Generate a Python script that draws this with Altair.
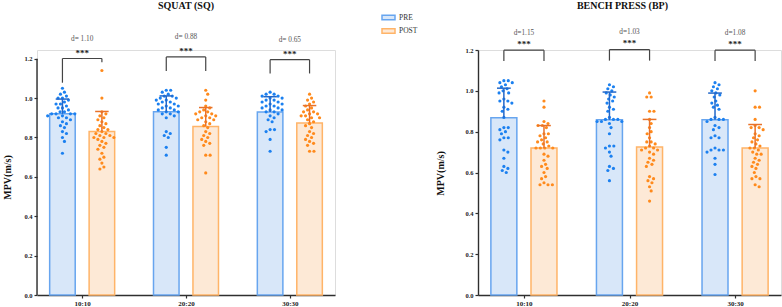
import json
import altair as alt
import pandas as pd

conditions = ["10:10", "20:20", "30:30"]
phases = ["PRE", "POST"]

# ---- SQUAT (SQ) individual MPV values (m/s) ----
sq_pre_10 = [1.05, 1.03, 1.02, 1.01, 1.00, 1.00, 0.99, 0.98, 0.97, 0.97, 0.96, 0.95, 0.95, 0.94, 0.93, 0.93, 0.92,
             0.92, 0.92, 0.92, 0.91, 0.91, 0.90, 0.90, 0.89, 0.88, 0.87, 0.86, 0.85, 0.83, 0.82, 0.80, 0.78, 0.72]
sq_post_10 = [1.14, 1.00, 0.93, 0.92, 0.91, 0.90, 0.89, 0.88, 0.87, 0.86, 0.85, 0.84, 0.84, 0.83, 0.82, 0.82, 0.81,
              0.81, 0.80, 0.80, 0.80, 0.79, 0.78, 0.77, 0.76, 0.75, 0.74, 0.72, 0.70, 0.69, 0.67, 0.65, 0.64]
sq_pre_20 = [1.04, 1.04, 1.03, 1.02, 1.01, 1.01, 1.00, 1.00, 0.99, 0.99, 0.98, 0.98, 0.97, 0.97, 0.96, 0.96, 0.95,
             0.95, 0.94, 0.94, 0.93, 0.93, 0.92, 0.92, 0.91, 0.90, 0.83, 0.82, 0.81, 0.80, 0.75, 0.71]
sq_post_20 = [1.04, 1.02, 0.99, 0.96, 0.95, 0.94, 0.93, 0.93, 0.92, 0.92, 0.91, 0.91, 0.90, 0.90, 0.89, 0.89, 0.88,
              0.87, 0.86, 0.85, 0.83, 0.82, 0.81, 0.80, 0.79, 0.78, 0.77, 0.76, 0.71, 0.71, 0.62]
sq_pre_30 = [1.03, 1.02, 1.02, 1.01, 1.01, 1.00, 1.00, 0.99, 0.99, 0.98, 0.98, 0.97, 0.97, 0.96, 0.96, 0.95, 0.95,
             0.94, 0.94, 0.93, 0.93, 0.92, 0.91, 0.90, 0.89, 0.88, 0.84, 0.84, 0.83, 0.79, 0.73]
sq_post_30 = [1.02, 1.00, 0.99, 0.98, 0.97, 0.96, 0.95, 0.94, 0.93, 0.93, 0.92, 0.92, 0.91, 0.91, 0.90, 0.90, 0.89,
              0.88, 0.87, 0.86, 0.85, 0.83, 0.82, 0.81, 0.80, 0.79, 0.78, 0.77, 0.76, 0.73, 0.73]

# ---- BENCH PRESS (BP) individual MPV values (m/s) ----
bp_pre_10 = [1.05, 1.05, 1.04, 1.04, 1.03, 1.02, 1.01, 1.00, 0.99, 0.99, 0.96, 0.95, 0.95, 0.94, 0.92, 0.91, 0.90,
             0.87, 0.82, 0.82, 0.81, 0.80, 0.79, 0.77, 0.77, 0.76, 0.71, 0.70, 0.67, 0.63, 0.62, 0.61, 0.60]
bp_post_10 = [0.95, 0.92, 0.85, 0.84, 0.83, 0.83, 0.82, 0.79, 0.79, 0.78, 0.77, 0.76, 0.75, 0.75, 0.74, 0.73, 0.72,
              0.72, 0.72, 0.72, 0.69, 0.68, 0.66, 0.64, 0.63, 0.62, 0.60, 0.58, 0.57, 0.55, 0.54, 0.54, 0.54]
bp_pre_20 = [1.03, 1.02, 1.01, 1.00, 0.99, 0.98, 0.97, 0.96, 0.95, 0.94, 0.92, 0.91, 0.90, 0.87, 0.86, 0.86, 0.86,
             0.85, 0.85, 0.85, 0.84, 0.82, 0.79, 0.73, 0.73, 0.72, 0.70, 0.68, 0.63, 0.62, 0.61, 0.56]
bp_post_20 = [0.99, 0.97, 0.97, 0.90, 0.90, 0.86, 0.84, 0.82, 0.80, 0.79, 0.77, 0.75, 0.75, 0.74, 0.73, 0.72, 0.72,
              0.71, 0.71, 0.70, 0.69, 0.67, 0.66, 0.65, 0.64, 0.63, 0.58, 0.57, 0.56, 0.55, 0.53, 0.51, 0.46]
bp_pre_30 = [1.04, 1.03, 1.02, 1.01, 1.00, 0.99, 0.98, 0.97, 0.95, 0.94, 0.93, 0.92, 0.91, 0.87, 0.86, 0.86, 0.86,
             0.85, 0.83, 0.82, 0.81, 0.78, 0.77, 0.77, 0.72, 0.71, 0.71, 0.71, 0.70, 0.67, 0.64, 0.59]
bp_post_30 = [1.00, 0.92, 0.92, 0.86, 0.83, 0.82, 0.82, 0.81, 0.79, 0.78, 0.77, 0.76, 0.75, 0.74, 0.73, 0.72, 0.72,
              0.71, 0.70, 0.69, 0.69, 0.67, 0.66, 0.65, 0.64, 0.63, 0.62, 0.60, 0.58, 0.57, 0.57, 0.54, 0.53]

# ---- group means and SDs ----
sq_pre_mean = [0.920, 0.930, 0.929]
sq_pre_sd = [0.075, 0.081, 0.078]
sq_post_mean = [0.830, 0.856, 0.874]
sq_post_sd = [0.102, 0.096, 0.088]
bp_pre_mean = [0.868, 0.858, 0.858]
bp_pre_sd = [0.145, 0.136, 0.131]
bp_post_mean = [0.720, 0.725, 0.720]
bp_post_sd = [0.110, 0.135, 0.115]

# ---- effect sizes / significance ----
sq_d = ["d= 1.10", "d= 0.88", "d= 0.65"]
bp_d = ["d=1.15", "d=1.03", "d=1.08"]
sig = ["***", "***", "***"]

# ---- significance brackets (m/s) ----
sq_br_top = [1.201, 1.209, 1.195]
sq_br_pre = [1.078, 1.138, 1.125]
sq_br_post = [1.182, 1.138, 1.125]
bp_br_top = [1.199, 1.202, 1.199]
bp_br_pre = [1.146, 1.148, 1.146]
bp_br_post = [1.146, 1.148, 1.146]

yticks = [0.0, 0.2, 0.4, 0.6, 0.8, 1.0, 1.2]

FONT = "Liberation Serif"
AX = "#2f2f2f"
PRE_FILL, POST_FILL = "#d8e7f9", "#fde9d6"
PRE_LINE, POST_LINE = "#67a5ef", "#ffb468"
PRE_DOT, POST_DOT = "#1b80f0", "#ff8a1c"
PRE_ERR, POST_ERR = "#2368c9", "#e8722a"
BRK = "#444444"
SHIFT = 0.19
HALF = 0.123
CAP = 0.065
XDOM = [-0.435, 2.435]
H = 245


def swarm(vals, ppx, ppy, diam=4.3, step=0.4):
    n = len(vals)
    order = sorted(range(n), key=lambda k: -vals[k])
    cands = [0.0]
    for j in range(1, 80):
        cands += [j * step, -j * step]
    placed, offs = [], [0.0] * n
    for k in order:
        yk = vals[k] * ppy
        for c in cands:
            if all((c - px) ** 2 + (yk - py) ** 2 >= diam ** 2 for px, py in placed):
                break
        placed.append((c, yk))
        offs[k] = c / ppx
    return offs


def build(title, pre_sets, post_sets, pre_mean, pre_sd, post_mean, post_sd, d_labels,
          br_top, br_pre, br_post, ymax, width, star_dy, d_dy, title_x, title_y,
          ytitle_x, ytitle_y, manual_domain, legend):
    ppx = width / (XDOM[1] - XDOM[0])
    ppy = H / ymax
    bar_rows, pt_rows = [], []
    for i, cond in enumerate(conditions):
        specs = [("PRE", -1, pre_sets, pre_mean, pre_sd, PRE_DOT, PRE_ERR),
                 ("POST", 1, post_sets, post_mean, post_sd, POST_DOT, POST_ERR)]
        for ph, sign, sets, means, sds, dot, err in specs:
            xc = i + sign * SHIFT
            bar_rows.append(dict(cond=cond, phase=ph, xc=xc, x1=xc - HALF, x2=xc + HALF, base=0.0,
                                 mean=means[i], top=means[i] + sds[i], c1=xc - CAP, c2=xc + CAP, err=err))
            vals = sets[i]
            for v, o in zip(vals, swarm(vals, ppx, ppy)):
                pt_rows.append(dict(phase=ph, xp=xc + o, v=v, dot=dot))
    bars_df = pd.DataFrame(bar_rows)
    pts_df = pd.DataFrame(pt_rows)
    br_df = pd.DataFrame([dict(xa=i - SHIFT, xb=i + SHIFT, xm=float(i), top=br_top[i], la=br_pre[i],
                               lb=br_post[i], sig=sig[i], d=d_labels[i]) for i in range(3)])

    xs = alt.Scale(domain=XDOM, nice=False, zero=False)
    ys = alt.Scale(domain=[0, ymax], nice=False, zero=True)
    x_axis = alt.Axis(values=[0, 1, 2], labelExpr=json.dumps(conditions) + "[datum.value]", title=None,
                      grid=False, tickSize=3, tickColor=AX, tickWidth=1.2, domainColor=AX, domainWidth=1.4,
                      labelFont=FONT, labelFontSize=7, labelFontWeight="bold", labelColor="#222",
                      labelPadding=1)
    y_axis = alt.Axis(values=yticks, format=".1f", title="MPV(m/s)", grid=False, tickSize=3, tickColor=AX,
                      tickWidth=1.2, domain=not manual_domain, domainColor=AX, domainWidth=1.4,
                      labelFont=FONT, labelFontSize=6.5, labelFontWeight="bold", labelColor="#222",
                      labelPadding=2, titleFont=FONT, titleFontSize=10, titleFontWeight="bold",
                      titleColor="#111", titleAngle=270, titleX=ytitle_x, titleY=ytitle_y,
                      titleAlign="center", titleBaseline="middle")
    X = lambda f: alt.X(f, scale=xs, axis=x_axis)
    Y = lambda f: alt.Y(f, scale=ys, axis=y_axis)

    bars = alt.Chart(bars_df).mark_rect(strokeWidth=1.5).encode(
        x=X("x1:Q"), x2="x2:Q", y=Y("mean:Q"), y2="base:Q",
        fill=alt.Fill("phase:N", scale=alt.Scale(domain=phases, range=[PRE_FILL, POST_FILL]), legend=legend),
        stroke=alt.Stroke("phase:N", scale=alt.Scale(domain=phases, range=[PRE_LINE, POST_LINE]), legend=legend),
    )
    pts = alt.Chart(pts_df).mark_circle(size=10, opacity=1).encode(
        x=X("xp:Q"), y=Y("v:Q"), color=alt.Color("dot:N", scale=None))
    errs = alt.Chart(bars_df).mark_rule(strokeWidth=1.5).encode(
        x=X("xc:Q"), y=Y("mean:Q"), y2="top:Q", color=alt.Color("err:N", scale=None))
    caps = alt.Chart(bars_df).mark_rule(strokeWidth=1.5).encode(
        x=X("c1:Q"), x2="c2:Q", y=Y("top:Q"), color=alt.Color("err:N", scale=None))
    bh = alt.Chart(br_df).mark_rule(strokeWidth=1.2, color=BRK).encode(x=X("xa:Q"), x2="xb:Q", y=Y("top:Q"))
    bl = alt.Chart(br_df).mark_rule(strokeWidth=1.2, color=BRK).encode(x=X("xa:Q"), y=Y("la:Q"), y2="top:Q")
    brr = alt.Chart(br_df).mark_rule(strokeWidth=1.2, color=BRK).encode(x=X("xb:Q"), y=Y("lb:Q"), y2="top:Q")
    stars = alt.Chart(br_df).mark_text(font=FONT, fontSize=9, fontWeight="bold", color="#222", dy=star_dy).encode(
        x=X("xm:Q"), y=Y("top:Q"), text="sig:N")
    dtx = alt.Chart(br_df).mark_text(font=FONT, fontSize=7.3, color="#555", dy=d_dy).encode(
        x=X("xm:Q"), y=Y("top:Q"), text="d:N")
    ttl = alt.Chart(pd.DataFrame({"t": [title]})).mark_text(
        font=FONT, fontSize=10, fontWeight="bold", color="#111", baseline="middle", align="center").encode(
        x=alt.value(title_x), y=alt.value(title_y), text="t:N")
    layers = [bars, pts, errs, caps, bh, bl, brr, stars, dtx, ttl]
    if manual_domain:
        dom_df = pd.DataFrame([dict(y0=0.0, y1=yticks[-1])])
        layers.append(alt.Chart(dom_df).mark_rule(color=AX, strokeWidth=1.4).encode(
            x=alt.value(0), y=Y("y0:Q"), y2="y1:Q"))
    return alt.layer(*layers).properties(width=width, height=H)


legend = alt.Legend(orient="none", legendX=344, legendY=-40, title=None,
                    symbolType="M-1,-0.35H1V0.35H-1Z", symbolSize=169, symbolStrokeWidth=1.5,
                    labelFont=FONT, labelFontSize=7.5, labelColor="#333", labelOffset=3,
                    rowPadding=0.5, direction="vertical")

left = build("SQUAT (SQ)", [sq_pre_10, sq_pre_20, sq_pre_30], [sq_post_10, sq_post_20, sq_post_30],
             sq_pre_mean, sq_pre_sd, sq_post_mean, sq_post_sd, sq_d, sq_br_top, sq_br_pre, sq_br_post,
             ymax=1.2 * H / (H - 8.7), width=298, star_dy=-6, d_dy=-19.5, title_x=149, title_y=-44.5,
             ytitle_x=-30, ytitle_y=127, manual_domain=True, legend=legend)
right = build("BENCH PRESS (BP)", [bp_pre_10, bp_pre_20, bp_pre_30], [bp_post_10, bp_post_20, bp_post_30],
              bp_pre_mean, bp_pre_sd, bp_post_mean, bp_post_sd, bp_d, bp_br_top, bp_br_pre, bp_br_post,
              ymax=1.2, width=303, star_dy=-6.3, d_dy=-17.7, title_x=144.5, title_y=-44,
              ytitle_x=-37.5, ytitle_y=123, manual_domain=False, legend=None)

chart = alt.hconcat(left, right, spacing=143, bounds="flush").resolve_scale(
    x="independent", y="independent", fill="independent", stroke="independent"
).resolve_legend(fill="independent", stroke="independent").properties(
    padding={"left": 1, "top": 0, "right": 0, "bottom": 0}
).configure_view(strokeWidth=0).configure(font=FONT)

chart.save("out.html", embed_options={"renderer": "svg", "actions": False})
